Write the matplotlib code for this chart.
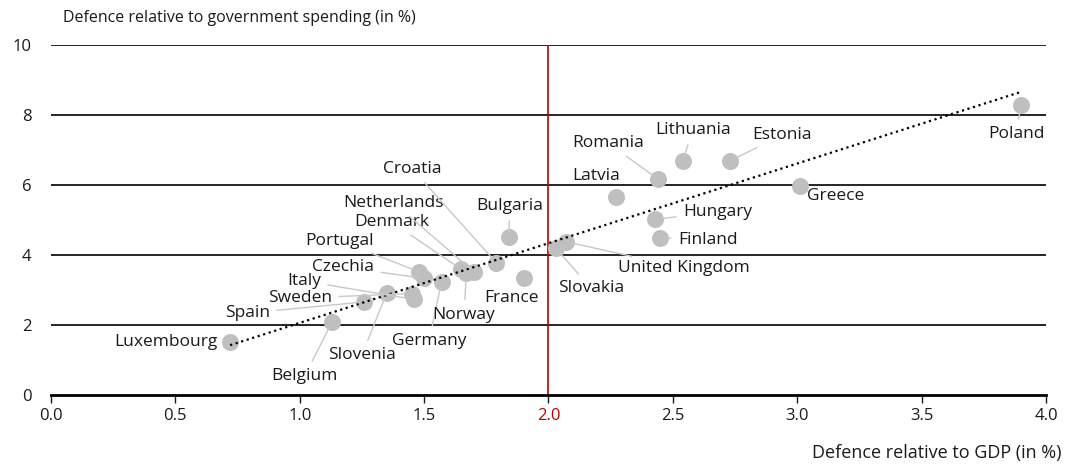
import numpy as np
import matplotlib
matplotlib.use("Agg")
from matplotlib import pyplot as plt

plt.rcParams['font.family'] = ['Open Sans', 'DejaVu Sans']

countries = ["Luxembourg", "Belgium", "Spain", "Slovenia", "Sweden", "Italy",
             "Portugal", "Czechia", "Germany", "Denmark", "Norway", "Netherlands",
             "Croatia", "Bulgaria", "France", "Slovakia", "United Kingdom", "Latvia",
             "Hungary", "Romania", "Finland", "Lithuania", "Estonia", "Greece", "Poland"]
gdp_share = [0.72, 1.13, 1.26, 1.35, 1.45, 1.46, 1.48, 1.50, 1.57, 1.65, 1.67, 1.70,
             1.79, 1.84, 1.90, 2.03, 2.07, 2.27, 2.43, 2.44, 2.45, 2.54, 2.73, 3.01, 3.90]
gov_share = [1.51, 2.08, 2.66, 2.92, 2.90, 2.73, 3.52, 3.33, 3.24, 3.59, 3.49, 3.52,
             3.78, 4.52, 3.33, 4.19, 4.38, 5.65, 5.02, 6.17, 4.49, 6.69, 6.69, 5.97, 8.29]

# label placement: (x, y, horizontal alignment, leader line?)
label_pos = {
    "Luxembourg": (0.67, 1.51, "right", False),
    "Belgium": (1.02, 0.55, "center", True),
    "Spain": (0.88, 2.34, "right", True),
    "Slovenia": (1.25, 1.15, "center", True),
    "Sweden": (1.13, 2.77, "right", True),
    "Italy": (1.085, 3.26, "right", True),
    "Portugal": (1.30, 4.40, "right", True),
    "Czechia": (1.30, 3.66, "right", True),
    "Germany": (1.52, 1.55, "center", True),
    "Denmark": (1.52, 4.94, "right", True),
    "Norway": (1.66, 2.30, "center", True),
    "Netherlands": (1.58, 5.49, "right", True),
    "Croatia": (1.57, 6.46, "right", True),
    "Bulgaria": (1.845, 5.40, "center", True),
    "France": (1.85, 2.77, "center", False),
    "Slovakia": (2.17, 3.06, "center", True),
    "United Kingdom": (2.28, 3.63, "left", True),
    "Latvia": (2.19, 6.26, "center", False),
    "Hungary": (2.54, 5.23, "left", True),
    "Romania": (2.24, 7.20, "center", True),
    "Finland": (2.52, 4.43, "left", True),
    "Lithuania": (2.58, 7.57, "center", True),
    "Estonia": (2.82, 7.43, "left", True),
    "Greece": (3.04, 5.69, "left", False),
    "Poland": (3.88, 7.46, "center", True),
}

fig = plt.figure(figsize=(10.67, 4.65), dpi=100)
ax = fig.add_axes([0.0478, 0.1505, 0.9325, 0.7527])

# horizontal grid lines
for yv in [2, 4, 6, 8, 10]:
    ax.axhline(yv, color="black", lw=1.2, zorder=1)

ax.axvline(2.0, color="#c00000", lw=1.2, zorder=1)

ax.scatter(gdp_share, gov_share, s=150, color="#bfbfbf", zorder=3, linewidths=0)

# linear trend line
coef = np.polyfit(gdp_share, gov_share, 1)
xs = np.array([min(gdp_share), max(gdp_share)])
ax.plot(xs, np.polyval(coef, xs), color="black", ls=(0, (1, 1.6)), lw=1.6, zorder=4)

for name, xv, yv in zip(countries, gdp_share, gov_share):
    tx, ty, ha, line = label_pos[name]
    if line:
        ax.annotate(name, xy=(xv, yv), xytext=(tx, ty), ha=ha, va="center",
                    fontsize=12.5, color="#1a1a1a", zorder=5,
                    arrowprops=dict(arrowstyle="-", color="#c8c8c8", lw=1,
                                    shrinkA=3, shrinkB=4))
    else:
        ax.text(tx, ty, name, ha=ha, va="center", fontsize=12.5,
                color="#1a1a1a", zorder=5)

ax.set_xlim(0, 4)
ax.set_ylim(0, 10)
ax.set_xticks(np.arange(0, 4.01, 0.5))
ax.set_xticklabels([f"{v:.1f}" for v in np.arange(0, 4.01, 0.5)])
ax.set_yticks([0, 2, 4, 6, 8, 10])

for s in ["top", "right", "left"]:
    ax.spines[s].set_visible(False)
ax.spines["bottom"].set_linewidth(2)
ax.tick_params(axis="x", direction="out", length=6, width=1, pad=3, labelsize=12,
               colors="#1a1a1a")
ax.tick_params(axis="y", length=0, pad=14, labelsize=12, colors="#1a1a1a")
ax.xaxis.get_ticklabels()[4].set_color("#c00000")

fig.text(63 / 1067, 1 - 18 / 465, "Defence relative to government spending (in %)",
         ha="left", va="center", fontsize=11.5, color="#1a1a1a")
fig.text(1062 / 1067, 1 - 453 / 465, "Defence relative to GDP (in %)",
         ha="right", va="center", fontsize=13, color="#1a1a1a")

fig.savefig("out.png", dpi=100)
